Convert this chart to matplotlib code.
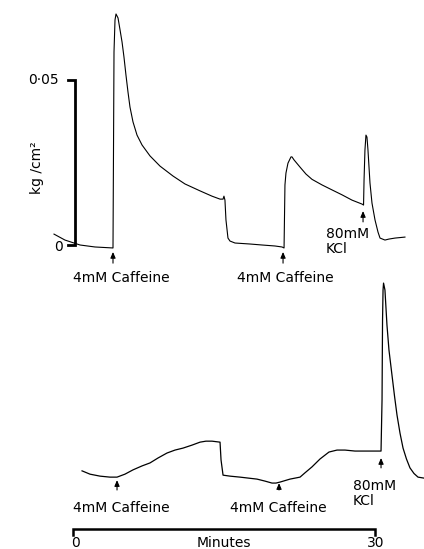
import matplotlib
matplotlib.use('Agg')
import matplotlib.pyplot as plt

# trace 1 (top): minutes, tension kg/cm2
top_t = [-1.89, -0.80, 0.70, 2.19, 3.98, 4.03, 4.08, 4.18, 4.28, 4.48, 4.68, 4.88,
         5.07, 5.27, 5.47, 5.67, 5.97, 6.37, 6.87, 7.66, 8.66, 9.95, 11.14, 12.64,
         13.83, 14.63, 14.93, 15.02, 15.12, 15.22, 15.42, 15.62, 16.12, 17.61,
         18.81, 20.10, 20.80, 21.00, 21.04, 21.09, 21.19, 21.39, 21.69, 21.79,
         21.99, 22.59, 23.18, 23.78, 24.78, 25.77, 26.77, 27.76, 28.76, 28.91,
         28.96, 29.05, 29.15, 29.25, 29.35, 29.55, 29.75, 30.05, 30.35, 30.55,
         31.04, 31.44, 32.04, 33.03]
top_v = [0.0033, 0.0015, 0.0, -0.0006, -0.0009, 0.0288, 0.0585, 0.0682, 0.0700,
         0.0688, 0.0652, 0.0615, 0.0570, 0.0515, 0.0464, 0.0418, 0.0373, 0.0333,
         0.0303, 0.0270, 0.0239, 0.0209, 0.0185, 0.0164, 0.0148, 0.0139, 0.0139,
         0.0148, 0.0136, 0.0076, 0.0021, 0.0012, 0.0006, 0.0003, 0.0, -0.0003,
         -0.0006, -0.0009, 0.0076, 0.0182, 0.0218, 0.0248, 0.0267, 0.0267, 0.0258,
         0.0236, 0.0215, 0.0199, 0.0182, 0.0167, 0.0152, 0.0136, 0.0124, 0.0121,
         0.0197, 0.0288, 0.0333, 0.0327, 0.0288, 0.0188, 0.0127, 0.0076, 0.0039,
         0.0021, 0.0015, 0.0018, 0.0021, 0.0024]

# trace 2 (bottom)
bot_t = [0.90, 1.69, 2.69, 3.68, 4.38, 5.17, 5.97, 6.87, 7.66, 8.46, 9.35, 10.15,
         10.95, 11.84, 12.64, 13.23, 13.83, 14.63, 14.73, 14.93, 15.62, 16.62,
         18.31, 19.10, 19.80, 20.20, 20.60, 21.59, 22.59, 23.08, 23.78, 24.58,
         25.47, 26.27, 27.06, 28.06, 29.05, 30.65, 30.75, 30.80, 30.85, 30.90,
         31.04, 31.24, 31.44, 31.74, 31.99, 32.24, 32.54, 32.84, 33.18, 33.53,
         33.93, 34.33, 34.93]
bot_v = [0.0058, 0.0048, 0.0042, 0.0039, 0.0039, 0.0048, 0.0061, 0.0073, 0.0082,
         0.0097, 0.0112, 0.0121, 0.0127, 0.0136, 0.0145, 0.0148, 0.0148, 0.0145,
         0.0091, 0.0045, 0.0042, 0.0039, 0.0033, 0.0027, 0.0021, 0.0021, 0.0024,
         0.0033, 0.0039, 0.0052, 0.0070, 0.0094, 0.0115, 0.0121, 0.0121, 0.0118,
         0.0118, 0.0118, 0.0273, 0.0515, 0.0606, 0.0627, 0.0606, 0.0500, 0.0424,
         0.0348, 0.0285, 0.0227, 0.0172, 0.0127, 0.0094, 0.0067, 0.0050, 0.0039,
         0.0036]

# additions: time of arrow, arrow tip / tail, label
top_arrows = [(3.98, -0.0021, -0.0055), (20.9, -0.0021, -0.0055), (28.86, 0.0103, 0.0070)]
top_labels = [(0.0, -0.0100, '4mM Caffeine'), (16.32, -0.0100, '4mM Caffeine'),
              (25.17, 0.0033, '80mM'), (25.17, -0.0012, 'KCl')]
bot_arrows = [(4.38, 0.0030, 0.0), (20.5, 0.0021, 0.0), (30.65, 0.0097, 0.0067)]
bot_labels = [(0.0, -0.00545, '4mM Caffeine'), (15.62, -0.00545, '4mM Caffeine'),
              (27.86, 0.0012, '80mM'), (27.86, -0.0033, 'KCl')]

W, H = 424, 549
X0, PX_MIN, PX_UNIT = 73, 10.05, 3300
SPLIT = 278
xlim = (-X0 / PX_MIN, (W - X0) / PX_MIN)

plt.rcParams['font.family'] = ['DejaVu Sans']
fig = plt.figure(figsize=(W / 100, H / 100), dpi=100)
ax1 = fig.add_axes([0, (H - SPLIT) / H, 1, SPLIT / H])
ax2 = fig.add_axes([0, 0, 1, (H - SPLIT) / H])
ax1.set_ylim((245 - SPLIT) / PX_UNIT, 245 / PX_UNIT)
ax2.set_ylim((490 - H) / PX_UNIT, (490 - SPLIT) / PX_UNIT)

for ax in (ax1, ax2):
    ax.set_xlim(*xlim)
    ax.axis('off')

ax1.plot(top_t, top_v, color='k', lw=0.8)
ax2.plot(bot_t, bot_v, color='k', lw=0.9)

def mark(ax, arrows, labels):
    for t, tip, tail in arrows:
        ax.annotate('', xy=(t, tip), xytext=(t, tail),
                    arrowprops=dict(arrowstyle='-|>,head_length=0.35,head_width=0.15',
                                    color='k', lw=0.8, shrinkA=0, shrinkB=0))
    for t, v, s in labels:
        ax.text(t, v, s, ha='left', va='center', fontsize=10)

mark(ax1, top_arrows, top_labels)
mark(ax2, bot_arrows, bot_labels)

# tension scale bar
ax1.plot([-0.5, 0.2, 0.2, -0.5], [0.05, 0.05, 0.0, 0.0], color='k', lw=2,
         solid_joinstyle='miter')
ax1.text(-1.39, 0.05, '0·05', ha='right', va='center', fontsize=10)
ax1.text(-1.05, -0.0006, '0', ha='right', va='center', fontsize=10)
ax1.text(-3.58, 0.0233, 'kg /cm²', ha='center', va='center', rotation=90, fontsize=10)

# time scale bar
ax2.plot([0, 0, 30, 30], [-0.0136, -0.0118, -0.0118, -0.0136], color='k', lw=1.8,
         solid_joinstyle='miter')
ax2.text(0.2, -0.0161, '0', ha='center', va='center', fontsize=10)
ax2.text(15.0, -0.0161, 'Minutes', ha='center', va='center', fontsize=10)
ax2.text(30.1, -0.0161, '30', ha='center', va='center', fontsize=10)

fig.savefig('out.png', dpi=100)
